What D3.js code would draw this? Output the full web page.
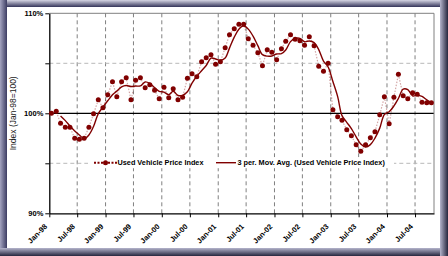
<!DOCTYPE html>
<html>
<head>
<meta charset="utf-8">
<script src="https://cdn.jsdelivr.net/npm/d3@7"></script>
<style>
  body { margin: 0; background: #fff; }
  svg { display: block; font-family: Arial, "Liberation Sans", sans-serif; }
</style>
</head>
<body>
<div id="container"></div>
<script>
// monthly index, Jan-98 .. Oct-04 (Jan-98 = 100)
const startYear = 1998;
const priceIndex = [
  100.0, 100.2, 99.0, 98.6, 98.6, 97.5, 97.4, 97.5, 98.6, 99.95, 101.35, 100.55,
  101.85, 103.15, 101.65, 103.15, 103.55, 101.35, 103.3, 103.55, 102.55, 102.85, 102.3, 101.45,
  102.6, 101.55, 102.45, 101.35, 101.6, 103.5, 103.95, 103.65, 105.15, 105.55, 105.85, 104.9,
  105.15, 106.55, 107.85, 108.45, 108.9, 108.9, 107.45, 106.8, 106.05, 104.75, 106.35, 106.1,
  105.35, 106.45, 107.2, 107.85, 107.4, 107.25, 106.8, 107.65, 106.75, 104.7, 104.2, 105.0,
  100.35, 99.65, 99.3, 98.35, 97.75, 96.85, 96.2, 96.85, 97.55, 98.15, 99.85, 101.65,
  98.95, 101.6, 103.9, 101.75, 101.45, 102.05, 101.9, 101.1, 101.05, 101.05
];
const yTicks = [90, 95, 100, 105, 110];
const yLabelled = [90, 100, 110];
const seriesName = "Used Vehicle Price Index";
const avgName = "3 per. Mov. Avg. (Used Vehicle Price Index)";
const axisTitle = "Index (Jan-98=100)";
const avgPeriod = 3;

const W = 448, H = 256;
const red = "#800000";

const svg = d3.select("#container").append("svg")
  .attr("width", W).attr("height", H);

// ---- frame ----
const defs = svg.append("defs");
function grad(id, x2, y2, c1, c2) {
  const g = defs.append("linearGradient").attr("id", id)
    .attr("x1", 0).attr("y1", 0).attr("x2", x2).attr("y2", y2);
  g.append("stop").attr("offset", "0%").attr("stop-color", c1);
  g.append("stop").attr("offset", "100%").attr("stop-color", c2);
}
grad("gTop", 0, 1, "#d6d6e4", "#34345a");
grad("gLeft", 1, 0, "#a4a4c0", "#3c3c62");
grad("gBottom", 0, 1, "#b4b4cc", "#26263e");
grad("gRight", 1, 0, "#b4b4cc", "#26263e");

svg.append("rect").attr("width", W).attr("height", H).attr("fill", "#fff");
svg.append("rect").attr("x", 0).attr("y", 0).attr("width", W).attr("height", 7).attr("fill", "url(#gTop)");
svg.append("rect").attr("x", 0).attr("y", 0).attr("width", 7).attr("height", H).attr("fill", "url(#gLeft)");
svg.append("rect").attr("x", 0).attr("y", 248).attr("width", W).attr("height", 8).attr("fill", "url(#gBottom)");
svg.append("rect").attr("x", 440).attr("y", 0).attr("width", 8).attr("height", H).attr("fill", "url(#gRight)");

// ---- scales ----
const dates = priceIndex.map((v, i) => new Date(startYear, i, 15));
const x = d3.scaleTime()
  .domain([new Date(startYear, 0, 1), new Date(startYear, priceIndex.length, 1)])
  .range([49.3, 434]);
const y = d3.scaleLinear().domain([90, 110]).range([213.3, 13.3]);
const tickDates = d3.timeMonth.every(6).range(new Date(startYear, 0, 1), new Date(startYear, priceIndex.length, 1));

const data = priceIndex.map((v, i) => ({ date: dates[i], value: v }));
const avg = [];
for (let i = avgPeriod - 1; i < data.length; i++) {
  avg.push({ date: data[i].date, value: d3.mean(priceIndex.slice(i - avgPeriod + 1, i + 1)) });
}

// ---- grid ----
const plot = svg.append("g");
plot.selectAll(".vg").data(tickDates.slice(1)).join("line")
  .attr("x1", d => x(d)).attr("x2", d => x(d))
  .attr("y1", y(110)).attr("y2", y(90))
  .attr("stroke", "#808080").attr("stroke-dasharray", "4,3");
plot.selectAll(".hg").data([95, 105]).join("line")
  .attr("x1", x.range()[0]).attr("x2", x.range()[1])
  .attr("y1", d => y(d)).attr("y2", d => y(d))
  .attr("stroke", "#b8b8b8").attr("stroke-dasharray", "4,3");
plot.append("line")
  .attr("x1", x.range()[0]).attr("x2", x.range()[1])
  .attr("y1", y(100)).attr("y2", y(100))
  .attr("stroke", "#000").attr("stroke-width", 1.3);
// plot border top/right
plot.append("path")
  .attr("d", `M${x.range()[0]},${y(110)}H${x.range()[1]}V${y(90)}`)
  .attr("fill", "none").attr("stroke", "#808080");

// ---- axes ----
const yAxis = svg.append("g")
  .attr("transform", `translate(${x.range()[0]},0)`)
  .call(d3.axisLeft(y).tickValues(yTicks).tickSize(4).tickSizeOuter(0)
    .tickFormat(d => yLabelled.includes(d) ? d + "%" : ""));
yAxis.select(".domain").attr("stroke", "#000").attr("stroke-width", 1.3);
yAxis.selectAll("text").attr("font-size", 7.5).attr("font-weight", "bold")
  .attr("font-family", "Arial, 'Liberation Sans', sans-serif").attr("fill", "#000").attr("x", -6);

const xAxis = svg.append("g")
  .attr("transform", `translate(0,${y(90)})`)
  .call(d3.axisBottom(x).tickValues(tickDates).tickSize(4).tickSizeOuter(0)
    .tickFormat(d3.timeFormat("%b-%y")));
xAxis.select(".domain").attr("stroke", "#000").attr("stroke-width", 1.3);
xAxis.selectAll("text")
  .attr("font-size", 7.5).attr("font-weight", "bold")
  .attr("font-family", "Arial, 'Liberation Sans', sans-serif").attr("fill", "#000")
  .attr("text-anchor", "end")
  .attr("transform", "translate(-4,12) rotate(-45)")
  .attr("x", 0).attr("y", 0).attr("dy", "0.35em");

svg.append("text")
  .attr("transform", `translate(16,${y(100)}) rotate(-90)`)
  .attr("text-anchor", "middle")
  .attr("font-size", 8.5).attr("fill", "#222")
  .text(axisTitle);

// ---- series ----
svg.append("path").datum(data)
  .attr("fill", "none").attr("stroke", red).attr("stroke-opacity", 0.35)
  .attr("stroke-width", 1.2).attr("stroke-dasharray", "1.5,1.5")
  .attr("d", d3.line().x(d => x(d.date)).y(d => y(d.value)));

svg.append("path").datum(avg)
  .attr("fill", "none").attr("stroke", red).attr("stroke-width", 1.4)
  .attr("d", d3.line().curve(d3.curveCatmullRom).x(d => x(d.date)).y(d => y(d.value)));

svg.selectAll(".pt").data(data).join("circle")
  .attr("cx", d => x(d.date)).attr("cy", d => y(d.value))
  .attr("r", 2.5).attr("fill", red);

// ---- legend ----
const ly = 162.7;
const legend = svg.append("g");
legend.append("rect").attr("x", 88).attr("y", ly - 5.5).attr("width", 306).attr("height", 11).attr("fill", "#fff");
legend.append("line").attr("x1", 94).attr("x2", 117).attr("y1", ly).attr("y2", ly)
  .attr("stroke", red).attr("stroke-width", 2).attr("stroke-dasharray", "2,1.5");
legend.append("circle").attr("cx", 105.5).attr("cy", ly).attr("r", 2.5).attr("fill", red);
legend.append("text").attr("x", 117.5).attr("y", ly).attr("dy", "0.35em")
  .attr("font-size", 7.3).attr("font-weight", "bold").text(seriesName);
legend.append("line").attr("x1", 216).attr("x2", 236).attr("y1", ly).attr("y2", ly)
  .attr("stroke", red).attr("stroke-width", 1.4);
legend.append("text").attr("x", 237.5).attr("y", ly).attr("dy", "0.35em")
  .attr("font-size", 7.3).attr("font-weight", "bold").text(avgName);
</script>
</body>
</html>
